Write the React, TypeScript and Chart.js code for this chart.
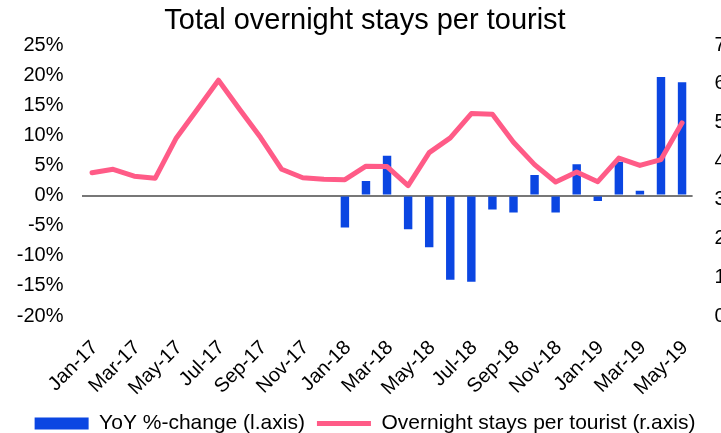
import React, { useEffect, useRef } from "react";
import { Chart, registerables } from "chart.js";

Chart.register(...registerables);

const months = [
  "Jan-17", "Feb-17", "Mar-17", "Apr-17", "May-17", "Jun-17", "Jul-17", "Aug-17", "Sep-17", "Oct-17", "Nov-17", "Dec-17",
  "Jan-18", "Feb-18", "Mar-18", "Apr-18", "May-18", "Jun-18", "Jul-18", "Aug-18", "Sep-18", "Oct-18", "Nov-18", "Dec-18",
  "Jan-19", "Feb-19", "Mar-19", "Apr-19", "May-19",
];

const yoyChange: (number | null)[] = [
  null, null, null, null, null, null, null, null, null, null, null, null,
  -5.3, 2.4, 6.6, -5.6, -8.6, -14.0, -14.3, -2.3, -2.8, 3.4, -2.8, 5.2,
  -0.9, 5.6, 0.8, 19.7, 18.8,
];

const staysPerTourist = [
  3.70, 3.79, 3.61, 3.56, 4.60, 5.34, 6.09, 5.34, 4.61, 3.79, 3.57, 3.53,
  3.52, 3.87, 3.86, 3.37, 4.22, 4.60, 5.23, 5.21, 4.49, 3.91, 3.46, 3.72,
  3.47, 4.08, 3.89, 4.04, 4.99,
];

const leftTicks = { min: -20, max: 25, step: 5 };
const rightTicks = { min: 0, max: 7, step: 1 };

const titleText = "Total overnight stays per tourist";
const barLabel = "YoY %-change (l.axis)";
const lineLabel = "Overnight stays per tourist (r.axis)";

export default function App() {
  const canvasRef = useRef<HTMLCanvasElement | null>(null);

  useEffect(() => {
    if (!canvasRef.current) return;
    Chart.defaults.font.family = "'Liberation Sans', Arial, sans-serif";
    Chart.defaults.color = "#000";
    const chart = new Chart(canvasRef.current, {
      type: "bar",
      data: {
        labels: months,
        datasets: [
          {
            type: "bar",
            label: barLabel,
            data: yoyChange,
            backgroundColor: "#0b46e2",
            borderWidth: 0,
            yAxisID: "y",
            order: 2,
            categoryPercentage: 0.8,
            barPercentage: 0.5,
            pointStyle: "rect",
          } as any,
          {
            type: "line",
            label: lineLabel,
            data: staysPerTourist,
            borderColor: "#ff5b87",
            backgroundColor: "#ff5b87",
            borderWidth: 5,
            pointRadius: 0,
            tension: 0,
            borderJoinStyle: "round",
            borderCapStyle: "round",
            yAxisID: "y2",
            order: 1,
            pointStyle: "line",
          } as any,
        ],
      },
      options: {
        animation: false,
        responsive: false,
        maintainAspectRatio: false,
        layout: { padding: { left: 0, right: 0, top: 0, bottom: -11 } },
        plugins: {
          tooltip: { enabled: false },
          title: {
            display: true,
            text: titleText,
            color: "#000",
            font: { size: 29, weight: "normal" },
            padding: { top: 3.5, bottom: 6.7 },
          },
          legend: {
            position: "bottom",
            labels: {
              usePointStyle: true,
              pointStyleWidth: 54,
              boxHeight: 12,
              padding: 12,
              color: "#000",
              font: { size: 21 },
              sort: (a: any, b: any) => a.datasetIndex - b.datasetIndex,
            },
          },
        },
        scales: {
          x: {
            offset: true,
            grid: { display: false },
            border: { display: false },
            afterFit: (s: any) => { s.height = 85; },
            ticks: {
              autoSkip: false,
              maxRotation: 45,
              minRotation: 45,
              padding: 12,
              labelOffset: 3,
              font: { size: 20 },
              color: "#000",
              callback: function (this: any, v: any, i: number) {
                return i % 2 === 0 ? months[i] : "";
              },
            },
          },
          y: {
            position: "left",
            min: leftTicks.min,
            max: leftTicks.max,
            afterFit: (s: any) => { s.width = 81.5; },
            border: { display: false },
            grid: {
              drawTicks: false,
              lineWidth: 2,
              color: (ctx: any) => (ctx.tick && ctx.tick.value === 0 ? "#777777" : "rgba(0,0,0,0)"),
            },
            ticks: {
              stepSize: leftTicks.step,
              padding: 18,
              font: { size: 20 },
              color: "#000",
              callback: (v: any) => `${v}%`,
            },
          },
          y2: {
            position: "right",
            min: rightTicks.min,
            max: rightTicks.max,
            afterFit: (s: any) => { s.width = 37.4; },
            border: { display: false },
            grid: { display: false, drawTicks: false },
            ticks: {
              stepSize: rightTicks.step,
              padding: 22,
              font: { size: 20 },
              color: "#000",
            },
          },
        },
      },
    });
    return () => chart.destroy();
  }, []);

  return (
    <div
      style={{
        position: "fixed",
        left: 0,
        top: 0,
        width: 721,
        height: 433,
        overflow: "hidden",
        background: "#fff",
      }}
    >
      <canvas ref={canvasRef} width={730} height={433} style={{ width: 730, height: 433, display: "block" }} />
    </div>
  );
}
